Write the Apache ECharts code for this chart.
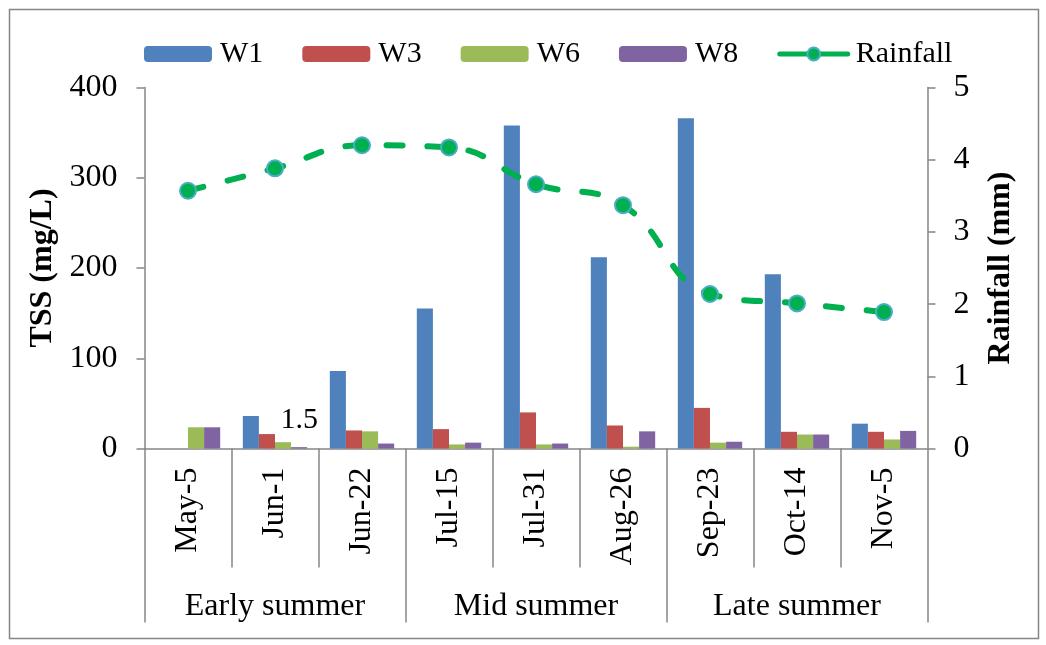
<!DOCTYPE html>
<html>
<head>
<meta charset="utf-8">
<script src="https://cdn.jsdelivr.net/npm/echarts@6/dist/echarts.min.js"></script>
<style>
  html, body { margin: 0; padding: 0; background: #fff; }
  #chart { width: 1046px; height: 645px; }
</style>
</head>
<body>
<div id="chart"></div>
<script>
// Sampling dates and seasonal groups
const dates = ['May-5', 'Jun-1', 'Jun-22', 'Jul-15', 'Jul-31', 'Aug-26', 'Sep-23', 'Oct-14', 'Nov-5'];
const seasons = ['Early summer', 'Mid summer', 'Late summer'];

// TSS (mg/L) per well
const W1 = [null, 36, 86, 155, 358, 212, 366, 193, 27.5];
const W3 = [null, 16, 20, 21.5, 40, 25.5, 45, 18.5, 18.5];
const W6 = [23.5, 7, 19, 4.5, 4.5, 2, 6.5, 15.5, 10];
const W8 = [23.5, 1.5, 5.5, 6.5, 5.5, 19, 7.5, 15.5, 19.5];

// Rainfall (mm)
const rainfall = [3.57, 3.88, 4.20, 4.17, 3.66, 3.37, 2.14, 2.01, 1.89];

// Axis ticks
const tssTicks = { min: 0, max: 400, interval: 100 };
const rainTicks = { min: 0, max: 5, interval: 1 };

// Data point that carries a value label (W8 on Jun-1)
const labelledW8 = [1];

const FONT = '"Liberation Serif", "Times New Roman", serif';
const AXIS_GREY = '#868686';
const FS = 32;
const LEGEND_FS = 30;
const RAIN_GREEN = '#00B050';

const chart = echarts.init(document.getElementById('chart'), null, { renderer: 'canvas' });

function barSeries(name, values, color, labelIdx) {
  return {
    name: name,
    type: 'bar',
    xAxisIndex: 0,
    yAxisIndex: 0,
    barGap: '0%',
    barCategoryGap: '26%',
    itemStyle: { color: color },
    data: values.map((v, i) => (labelIdx && labelIdx.includes(i))
      ? { value: v, label: { show: true, position: 'top', distance: 12, fontSize: 30, fontFamily: FONT, color: '#000' } }
      : v),
    z: 2
  };
}

chart.setOption({
  backgroundColor: '#fff',
  animation: false,
  textStyle: { fontFamily: FONT, color: '#000' },
  graphic: [{
    type: 'rect',
    shape: { x: 9.5, y: 9.5, width: 1029, height: 629 },
    style: { fill: 'none', stroke: AXIS_GREY, lineWidth: 1.5 },
    silent: true,
    z: -1
  }],
  legend: {
    left: 139,
    top: 34,
    itemWidth: 68,
    itemHeight: 16,
    itemGap: 39,
    textStyle: { fontSize: LEGEND_FS, fontFamily: FONT, color: '#000', padding: [0, 0, 0, 3] },
    data: ['W1', 'W3', 'W6', 'W8', {
      name: 'Rainfall',
      lineStyle: { type: 'solid', width: 5, color: RAIN_GREEN }
    }]
  },
  grid: { left: 144.5, right: 118.5, top: 87.5, bottom: 196.5, containLabel: false },
  xAxis: [{
    type: 'category',
    data: dates,
    boundaryGap: true,
    axisLine: { show: true, lineStyle: { color: AXIS_GREY, width: 1.5 } },
    axisTick: { show: true, length: 119, lineStyle: { color: AXIS_GREY, width: 1.5 } },
    axisLabel: { rotate: 90, margin: 19, fontSize: FS, fontFamily: FONT, color: '#000' },
    splitLine: { show: false }
  }, {
    type: 'category',
    data: seasons,
    position: 'bottom',
    boundaryGap: true,
    axisLine: { show: false },
    axisTick: { show: true, length: 174, lineStyle: { color: AXIS_GREY, width: 1.5 } },
    axisLabel: { margin: 142, fontSize: FS, fontFamily: FONT, color: '#000' },
    splitLine: { show: false }
  }],
  yAxis: [{
    type: 'value',
    min: tssTicks.min, max: tssTicks.max, interval: tssTicks.interval,
    name: 'TSS (mg/L)',
    nameLocation: 'middle',
    nameRotate: 90,
    nameGap: 84,
    nameTextStyle: { fontSize: FS, fontWeight: 'bold', fontFamily: FONT, color: '#000' },
    axisLine: { show: true, lineStyle: { color: AXIS_GREY, width: 1.5 } },
    axisTick: { show: true, length: 8, lineStyle: { color: AXIS_GREY, width: 1.5 } },
    axisLabel: { margin: 27, fontSize: FS, fontFamily: FONT, color: '#000' },
    splitLine: { show: false }
  }, {
    type: 'value',
    position: 'right',
    min: rainTicks.min, max: rainTicks.max, interval: rainTicks.interval,
    name: 'Rainfall (mm)',
    nameLocation: 'middle',
    nameRotate: 90,
    nameGap: 57,
    nameTextStyle: { fontSize: FS, fontWeight: 'bold', fontFamily: FONT, color: '#000' },
    axisLine: { show: true, lineStyle: { color: AXIS_GREY, width: 1.5 } },
    axisTick: { show: true, length: 8, lineStyle: { color: AXIS_GREY, width: 1.5 } },
    axisLabel: { margin: 26, fontSize: FS, fontFamily: FONT, color: '#000' },
    splitLine: { show: false }
  }],
  series: [
    barSeries('W1', W1, '#4F81BD'),
    barSeries('W3', W3, '#C0504D'),
    barSeries('W6', W6, '#9BBB59'),
    barSeries('W8', W8, '#8064A2', labelledW8),
    {
      name: 'Rainfall',
      type: 'line',
      xAxisIndex: 0,
      yAxisIndex: 1,
      data: rainfall,
      smooth: 0.45,
      symbol: 'circle',
      symbolSize: 16,
      showAllSymbol: true,
      lineStyle: { color: RAIN_GREEN, width: 6, type: [16, 25], cap: 'round' },
      itemStyle: { color: RAIN_GREEN, borderColor: '#4BACC6', borderWidth: 2 },
      z: 5
    }
  ]
});
</script>
</body>
</html>
